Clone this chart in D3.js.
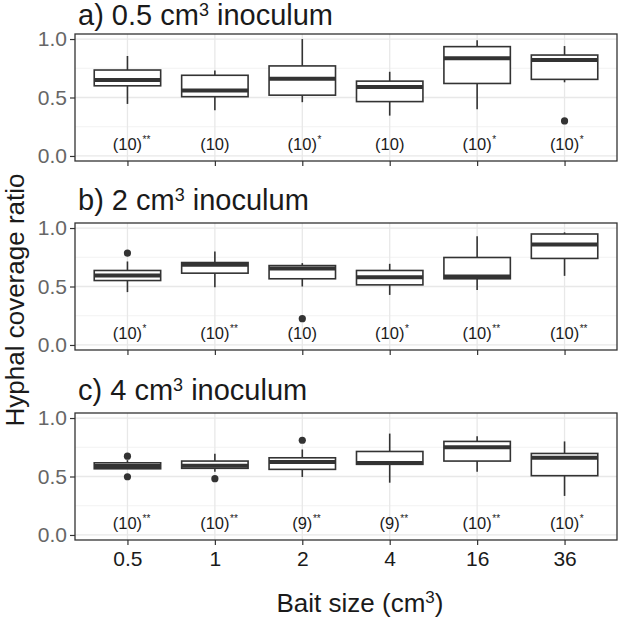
<!DOCTYPE html>
<html><head><meta charset="utf-8">
<script src="https://cdn.jsdelivr.net/npm/d3@7"></script>
<style>body{margin:0;background:#fff;} svg{display:block;font-family:"Liberation Sans",Arial,sans-serif;}</style>
</head><body><svg id="chart" width="620" height="621"></svg>
<script>
const categories = ["0.5","1","2","4","16","36"];
const yTicks = [0, 0.5, 1.0];
const yMinor = [0.25, 0.75];
const panelLetters = ["a)", "b)", "c)"];
const panelVolumes = ["0.5", "2", "4"];

// Panel a) 0.5 cm3 inoculum
const aLow    = [0.445, 0.39, 0.46, 0.345, 0.40, 0.63];
const aQ1     = [0.60, 0.507, 0.52, 0.465, 0.62, 0.655];
const aMedian = [0.65, 0.56, 0.66, 0.59, 0.835, 0.82];
const aQ3     = [0.735, 0.69, 0.77, 0.64, 0.935, 0.863];
const aHigh   = [0.855, 0.73, 1.0, 0.72, 0.99, 0.94];
const aOutliers = [[], [], [], [], [], [0.30]];
const aN      = [10, 10, 10, 10, 10, 10];
const aStars  = ["**", "", "*", "", "*", "*"];

// Panel b) 2 cm3 inoculum
const bLow    = [0.452, 0.494, 0.50, 0.428, 0.471, 0.591];
const bQ1     = [0.551, 0.614, 0.566, 0.514, 0.566, 0.74];
const bMedian = [0.594, 0.686, 0.654, 0.58, 0.585, 0.86];
const bQ3     = [0.637, 0.705, 0.679, 0.637, 0.748, 0.949];
const bHigh   = [0.714, 0.80, 0.70, 0.694, 0.929, 0.963];
const bOutliers = [[0.786], [], [0.225], [], [], []];
const bN      = [10, 10, 10, 10, 10, 10];
const bStars  = ["*", "**", "", "*", "**", "**"];

// Panel c) 4 cm3 inoculum
const cLow    = [0.566, 0.54, 0.496, 0.447, 0.541, 0.334];
const cQ1     = [0.566, 0.57, 0.561, 0.604, 0.632, 0.507];
const cMedian = [0.59, 0.592, 0.623, 0.615, 0.751, 0.66];
const cQ3     = [0.617, 0.632, 0.66, 0.714, 0.80, 0.697];
const cHigh   = [0.64, 0.694, 0.731, 0.867, 0.844, 0.80];
const cOutliers = [[0.674, 0.498], [0.481], [0.81], [], [], []];
const cN      = [10, 10, 9, 9, 10, 10];
const cStars  = ["**", "**", "**", "**", "**", "*"];

const panels = [
  {low:aLow, q1:aQ1, med:aMedian, q3:aQ3, high:aHigh, out:aOutliers, n:aN, stars:aStars},
  {low:bLow, q1:bQ1, med:bMedian, q3:bQ3, high:bHigh, out:bOutliers, n:bN, stars:bStars},
  {low:cLow, q1:cQ1, med:cMedian, q3:cQ3, high:cHigh, out:cOutliers, n:cN, stars:cStars}
];

const svg = d3.select("#chart");
const left = 75, right = 617, pH = 127;
const tops = [34, 223, 413];
const titleBase = [25, 210, 400];
const x = d3.scalePoint().domain(categories).range([left, right]).padding(0.6);
const step = x.step();
const boxW = step * 0.76;
const ink = "#333333";

panels.forEach((p, i) => {
  const top = tops[i];
  const y = d3.scaleLinear().domain([-0.043, 1.043]).range([top + pH, top]);
  const g = svg.append("g");
  // grid
  g.selectAll(".minor").data(yMinor).enter().append("line")
    .attr("x1", left).attr("x2", right).attr("y1", d => y(d)).attr("y2", d => y(d))
    .attr("stroke", "#ececec").attr("stroke-width", 0.7);
  g.selectAll(".major").data(yTicks).enter().append("line")
    .attr("x1", left).attr("x2", right).attr("y1", d => y(d)).attr("y2", d => y(d))
    .attr("stroke", "#e8e8e8").attr("stroke-width", 1.3);
  g.selectAll(".vgrid").data(categories).enter().append("line")
    .attr("x1", d => x(d)).attr("x2", d => x(d)).attr("y1", top).attr("y2", top + pH)
    .attr("stroke", "#e8e8e8").attr("stroke-width", 1.3);

  const idx = d3.range(categories.length);
  // whiskers
  g.selectAll(".wh").data(idx).enter().append("line")
    .attr("x1", k => x(categories[k])).attr("x2", k => x(categories[k]))
    .attr("y1", k => y(p.high[k])).attr("y2", k => y(p.q3[k]))
    .attr("stroke", ink).attr("stroke-width", 1.6);
  g.selectAll(".wl").data(idx).enter().append("line")
    .attr("x1", k => x(categories[k])).attr("x2", k => x(categories[k]))
    .attr("y1", k => y(p.q1[k])).attr("y2", k => y(p.low[k]))
    .attr("stroke", ink).attr("stroke-width", 1.6);
  // boxes
  g.selectAll(".box").data(idx).enter().append("rect")
    .attr("x", k => x(categories[k]) - boxW / 2).attr("width", boxW)
    .attr("y", k => y(p.q3[k])).attr("height", k => y(p.q1[k]) - y(p.q3[k]))
    .attr("fill", "#fff").attr("stroke", ink).attr("stroke-width", 1.6);
  // medians
  g.selectAll(".med").data(idx).enter().append("line")
    .attr("x1", k => x(categories[k]) - boxW / 2).attr("x2", k => x(categories[k]) + boxW / 2)
    .attr("y1", k => y(p.med[k])).attr("y2", k => y(p.med[k]))
    .attr("stroke", ink).attr("stroke-width", 4);
  // outliers
  const outs = [];
  p.out.forEach((arr, k) => arr.forEach(v => outs.push({k, v})));
  g.selectAll(".out").data(outs).enter().append("circle")
    .attr("cx", d => x(categories[d.k])).attr("cy", d => y(d.v)).attr("r", 3.6)
    .attr("fill", ink);
  // annotations
  idx.forEach(k => {
    const cx = x(categories[k]);
    const t = g.append("text").attr("x", cx).attr("y", y(0.05))
      .attr("text-anchor", "middle").attr("font-size", 16.5).attr("fill", "#1a1a1a")
      .text("(" + p.n[k] + ")");
    if (p.stars[k]) {
      const w = t.node().getComputedTextLength();
      g.append("text").attr("x", cx + w / 2 + 0.5).attr("y", y(0.05) - 7)
        .attr("font-size", 10).attr("fill", "#1a1a1a").text(p.stars[k]);
    }
  });
  // border
  g.append("rect").attr("x", left).attr("y", top).attr("width", right - left).attr("height", pH)
    .attr("fill", "none").attr("stroke", "#333").attr("stroke-width", 1.3);
  // y axis
  const ax = d3.axisLeft(y).tickValues(yTicks).tickFormat(d3.format(".1f")).tickSize(5).tickPadding(3);
  const ag = svg.append("g").attr("transform", `translate(${left},0)`).call(ax);
  ag.select(".domain").remove();
  ag.selectAll(".tick line").attr("stroke", "#333").attr("stroke-width", 1.2);
  ag.selectAll(".tick text").attr("font-size", 21).attr("fill", "#666")
    .attr("font-family", "Liberation Sans, Arial, sans-serif");
  // x ticks (marks only for a, b; with labels for c)
  const xa = d3.axisBottom(x).tickSize(5).tickPadding(6);
  const xg = svg.append("g").attr("transform", `translate(0,${top + pH})`).call(xa);
  xg.select(".domain").remove();
  xg.selectAll(".tick line").attr("stroke", "#333").attr("stroke-width", 1.2);
  if (i < 2) xg.selectAll(".tick text").remove();
  else xg.selectAll(".tick text").attr("font-size", 21).attr("fill", "#1a1a1a")
    .attr("font-family", "Liberation Sans, Arial, sans-serif");
  // title
  const tt = svg.append("text").attr("x", 78).attr("y", titleBase[i]).attr("font-size", 29).attr("fill", "#1a1a1a");
  tt.append("tspan").text(panelLetters[i] + " " + panelVolumes[i] + " cm");
  tt.append("tspan").attr("font-size", 18).attr("dy", -9).text("3");
  tt.append("tspan").attr("dy", 9).text(" inoculum");
});

// axis titles
svg.append("text").attr("transform", "translate(24,300) rotate(-90)")
  .attr("text-anchor", "middle").attr("font-size", 26).attr("fill", "#1a1a1a")
  .text("Hyphal coverage ratio");
const xt = svg.append("text").attr("x", 360).attr("y", 612).attr("text-anchor", "middle")
  .attr("font-size", 26).attr("fill", "#1a1a1a");
xt.append("tspan").text("Bait size (cm");
xt.append("tspan").attr("font-size", 17).attr("dy", -9).text("3");
xt.append("tspan").attr("dy", 9).text(")");
</script></body></html>
